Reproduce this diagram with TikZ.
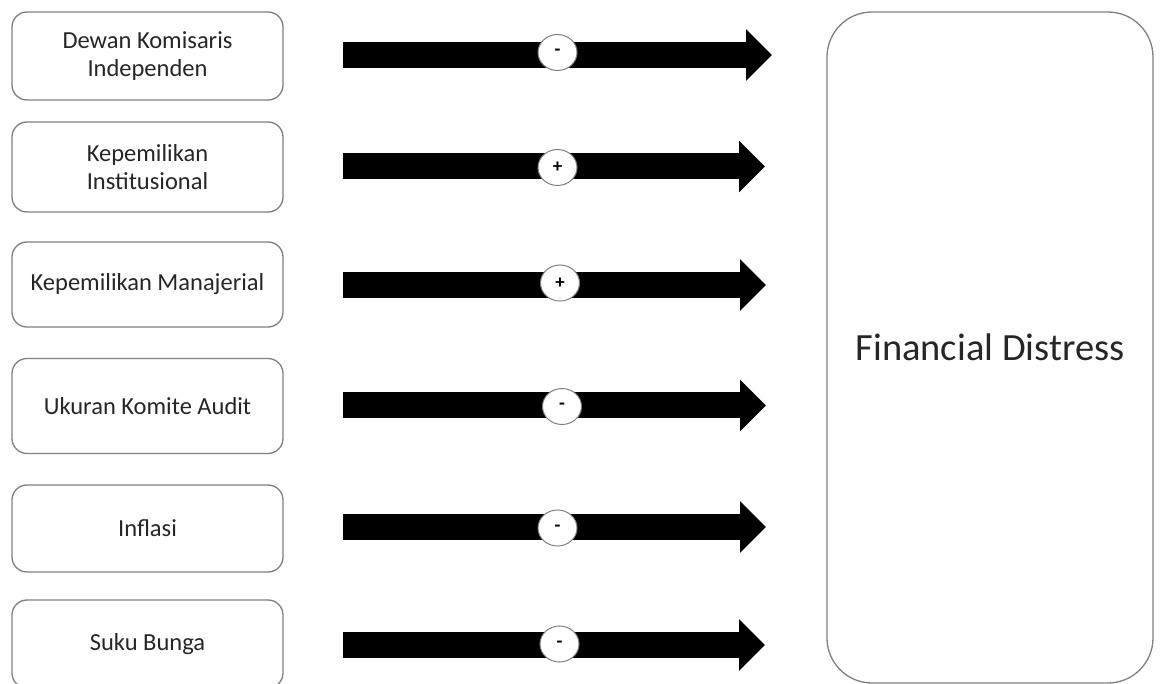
\documentclass[tikz,border=0pt]{standalone}
\usepackage{fontspec}
\setmainfont{Carlito}
\usetikzlibrary{arrows.meta,shapes.geometric}
\definecolor{edge}{HTML}{808080}
\definecolor{txt}{HTML}{262626}
\tikzset{
  varbox/.style={draw=edge, line width=1.3pt, rounded corners=15pt, fill=white,
    text=txt, align=center, font=\fontsize{24.5}{28}\selectfont},
  bigbox/.style={draw=edge, line width=1.3pt, rounded corners=45pt, fill=white,
    text=txt, font=\fontsize{38.5}{44}\selectfont},
  blockarrow/.style={line width=26pt, draw=black,
    -{Triangle[width=50pt,length=26pt]}},
  sign/.style={ellipse, draw=edge, line width=1pt, fill=white, inner sep=0pt,
    minimum width=39pt, minimum height=36pt, font=\fontsize{19}{19}\selectfont\bfseries}
}
\begin{document}
\begin{tikzpicture}[x=1pt,y=-1pt]
\useasboundingbox (0,0) rectangle (1160,684);
\clip (0,0) rectangle (1160,684);
% left boxes
\node[varbox, minimum width=271pt, minimum height=88pt] (b1) at (147.5,56) {Dewan Komisaris\\Independen};
\node[varbox, minimum width=271pt, minimum height=90pt] (b2) at (147.5,167) {Kepemilikan\\Institusional};
\node[varbox, minimum width=271pt, minimum height=85pt] (b3) at (147.5,284.5) {Kepemilikan Manajerial};
\node[varbox, minimum width=271pt, minimum height=95pt] (b4) at (147.5,406) {Ukuran Komite Audit};
\node[varbox, minimum width=271pt, minimum height=87pt] (b5) at (147.5,528.5) {Inflasi};
\node[varbox, minimum width=271pt, minimum height=88pt] (b6) at (147.5,644) {Suku Bunga};
% big box
\node[bigbox, minimum width=326pt, minimum height=671pt] (fd) at (990,347.5) {Financial Distress};
% arrow end points
\coordinate (s1) at (343,55);  \coordinate (e1) at (772,55);
\coordinate (s2) at (343,166.5); \coordinate (e2) at (765,166.5);
\coordinate (s3) at (343,285); \coordinate (e3) at (766,285);
\coordinate (s4) at (343,405.5); \coordinate (e4) at (766,405.5);
\coordinate (s5) at (343,527); \coordinate (e5) at (766,527);
\coordinate (s6) at (343,645); \coordinate (e6) at (765,645);
\foreach \i in {1,...,6} { \draw[blockarrow] (s\i) -- (e\i); }
% signs
\node[sign] (c1) at (557.5,52.5) {-};
\node[sign] (c2) at (557.5,167.5) {+};
\node[sign] (c3) at (560,283) {+};
\node[sign] (c4) at (562,406.5) {-};
\node[sign] (c5) at (557.5,528) {-};
\node[sign] (c6) at (559.5,644) {-};
\end{tikzpicture}
\end{document}
